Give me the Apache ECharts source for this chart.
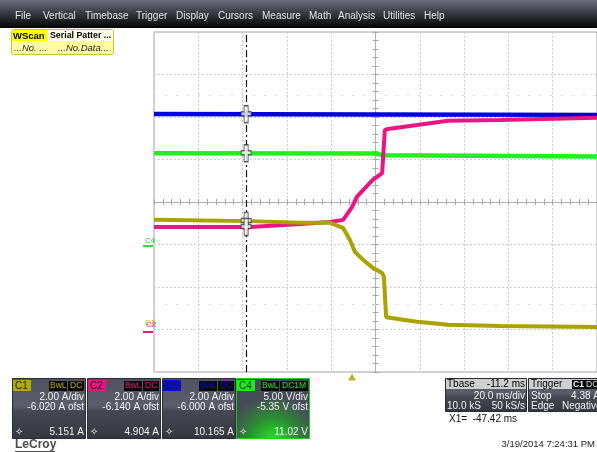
<!DOCTYPE html>
<html>
<head>
<meta charset="utf-8">
<script src="https://cdn.jsdelivr.net/npm/echarts@6/dist/echarts.min.js"></script>
<style>
  html, body { margin:0; padding:0; background:#fff; }
  #scope { width:597px; height:452px; }
</style>
</head>
<body>
<div id="scope"></div>
<script>
// traces, x in divisions from centre (-5..5), y in divisions from centre (-4..4)
var c1Pts = [[-5,-0.42],[-2.83,-0.45],[-1.70,-0.49],[-1.03,-0.49],[-0.73,-0.61],[-0.58,-0.89],[-0.46,-1.18],
             [-0.28,-1.36],[-0.06,-1.55],[0.15,-1.67],[0.19,-1.76],[0.24,-2.71],[0.28,-2.73],[0.94,-2.82],
             [1.64,-2.89],[2.81,-2.92],[5,-2.94]];
var c2Pts = [[-5,-0.59],[-2.83,-0.59],[-1.70,-0.52],[-1.03,-0.47],[-0.73,-0.42],[-0.53,-0.12],[-0.42,0.12],
             [-0.28,0.28],[-0.06,0.52],[0.15,0.68],[0.18,0.71],[0.21,1.69],[0.28,1.72],[0.94,1.81],
             [1.64,1.91],[2.81,1.93],[5,1.98]];
var c3Pts = [[-5,2.07],[0,2.06],[5,2.05]];
var c4Pts = [[-5,1.15],[0,1.14],[0.2,1.10],[5,1.07]];

var cursorX = -2.92;   // X1 cursor
var trigX = -0.53;     // trigger point

// channel descriptor boxes
var chanNames   = ['C1','C2','C3','C4'];
var chanCoupl   = ['DC','DC','DC','DC1M'];
var chanScale   = ['2.00 A/div','2.00 A/div','2.00 A/div','5.00 V/div'];
var chanOffset  = ['-6.020 A ofst','-6.140 A ofst','-6.000 A ofst','-5.35 V ofst'];
var chanReadout = ['5.151 A','4.904 A','10.165 A','11.02 V'];
var chanColors  = ['#b3ac00','#e6157f','#0a0ad8','#1ee81e'];
var traceColors = ['#aaa200','#ea1585','#0000dd','#22ee22'];

var menuItems = ['File','Vertical','Timebase','Trigger','Display','Cursors','Measure','Math','Analysis','Utilities','Help'];
var menuX     = [15,43,85,136,176,218,262,309,338,383,424];

function interp(pts, x) {
    for (var i = 0; i < pts.length - 1; i++) {
        if (x >= pts[i][0] && x <= pts[i+1][0]) {
            var t = (x - pts[i][0]) / (pts[i+1][0] - pts[i][0]);
            return pts[i][1] + t * (pts[i+1][1] - pts[i][1]);
        }
    }
    return pts[pts.length-1][1];
}

function txt(x, y, s, color, font, align) {
    return {type:'text', x:x, y:y, z:20,
        style:{text:s, fill:color, font:font, textAlign:align||'left', align:align||'left',
               textVerticalAlign:'middle', verticalAlign:'middle'}};
}
var FONT = '10px "Liberation Sans", Arial, sans-serif';
var panelFill = new echarts.graphic.LinearGradient(0,0,0,1,[
    {offset:0, color:'#50535f'},{offset:0.45, color:'#5b5e6a'},{offset:0.55, color:'#454852'},{offset:1, color:'#34373f'}]);

var g = [];
// menu bar
g.push({type:'rect', shape:{x:0,y:0,width:597,height:28}, z:10,
    style:{fill:new echarts.graphic.LinearGradient(0,0,0,1,[{offset:0,color:'#6b6e7e'},{offset:0.45,color:'#3a3b44'},{offset:1,color:'#050505'}])}});
menuItems.forEach(function (m, i) {
    g.push(txt(menuX[i], 16, m, '#e6e6e6', '10px "Liberation Sans", Arial, sans-serif'));
});

// WScan box
g.push({type:'rect', shape:{x:11.5,y:29.5,width:102,height:25, r:2}, z:10, style:{fill:'#ffff9e', stroke:'#c8bf3a', lineWidth:1}});
g.push({type:'rect', shape:{x:12,y:30,width:35,height:11}, z:11, style:{fill:'#ffff00'}});
g.push({type:'rect', shape:{x:48,y:30,width:65,height:11}, z:11, style:{fill:'#fbfbe6'}});
g.push(txt(13, 36, 'WScan', '#000', 'bold 9.5px "Liberation Sans", Arial, sans-serif'));
g.push(txt(50, 36, 'Serial Patter ...', '#000', 'bold 8.8px "Liberation Sans", Arial, sans-serif'));
g.push(txt(14, 48, '...No. ...', '#222', 'italic 9.5px "Liberation Sans", Arial, sans-serif'));
g.push(txt(58, 48, '...No.Data...', '#222', 'italic 9.5px "Liberation Sans", Arial, sans-serif'));

// channel descriptor boxes
var boxX = [12, 87, 162, 236];
chanNames.forEach(function (n, i) {
    var x0 = boxX[i], w = 73;
    var fill = panelFill;
    if (i === 3) {
        fill = new echarts.graphic.RadialGradient(0.5, 1.05, 0.75, [{offset:0,color:'#1ef01e'},{offset:0.55,color:'#2c8a34'},{offset:1,color:'#474b57'}]);
    }
    g.push({type:'rect', shape:{x:x0+0.5,y:378.5,width:w,height:60}, z:10,
        style:{fill:fill, stroke:i===3 ? '#28c828' : '#2a2c33', lineWidth:1}});
    g.push({type:'rect', shape:{x:x0+1,y:380,width:18,height:11}, z:11, style:{fill:chanColors[i]}});
    g.push(txt(x0+3, 386, n, i===3 ? '#064006' : '#1a1a1a', '10px "Liberation Sans", Arial, sans-serif'));
    var cw = chanCoupl[i].length * 6 + 4;
    g.push({type:'rect', shape:{x:x0+w-cw-1,y:381,width:cw,height:10}, z:11, style:{fill:'#0a0a0a'}});
    g.push({type:'rect', shape:{x:x0+w-cw-20,y:381,width:18,height:10}, z:11, style:{fill:'#0a0a0a'}});
    g.push(txt(x0+w-cw-19, 386, 'BwL', chanColors[i], '8.5px "Liberation Sans", Arial, sans-serif'));
    g.push(txt(x0+w-cw+1, 386, chanCoupl[i], chanColors[i], '8.5px "Liberation Sans", Arial, sans-serif'));
    g.push(txt(x0+w-1, 397, chanScale[i], '#f2f2f2', FONT, 'right'));
    g.push(txt(x0+w-1, 407, chanOffset[i], '#f2f2f2', FONT, 'right'));
    g.push(txt(x0+w-1, 432, chanReadout[i], '#f2f2f2', FONT, 'right'));
    g.push(txt(x0+3, 432, '\u2727', '#f2f2f2', '10px "DejaVu Sans", sans-serif'));
});

// timebase and trigger boxes
g.push({type:'rect', shape:{x:445.5,y:378.5,width:81,height:33}, z:10, style:{fill:panelFill, stroke:'#2a2c33'}});
g.push({type:'rect', shape:{x:446,y:379,width:80,height:10}, z:11, style:{fill:'#cfcfcf'}});
g.push(txt(447, 384, 'Tbase', '#000', FONT));
g.push(txt(525, 384, '-11.2 ms', '#000', FONT, 'right'));
g.push(txt(525, 396, '20.0 ms/div', '#f2f2f2', FONT, 'right'));
g.push(txt(447, 406.5, '10.0 kS', '#f2f2f2', FONT));
g.push(txt(525, 406.5, '50 kS/s', '#f2f2f2', FONT, 'right'));
g.push({type:'rect', shape:{x:528.5,y:378.5,width:72,height:33}, z:10, style:{fill:panelFill, stroke:'#2a2c33'}});
g.push({type:'rect', shape:{x:529,y:379,width:70,height:10}, z:11, style:{fill:'#cfcfcf'}});
g.push(txt(531, 384, 'Trigger', '#000', FONT));
g.push({type:'rect', shape:{x:572,y:380,width:26,height:9}, z:11, style:{fill:'#0a0a0a'}});
g.push(txt(573, 384.5, 'C1', '#f0f0f0', 'bold 8.5px "Liberation Sans", Arial, sans-serif'));
g.push(txt(586, 384.5, 'DC', '#d8d8d8', '8.5px "Liberation Sans", Arial, sans-serif'));
g.push(txt(531, 396, 'Stop', '#f2f2f2', FONT));
g.push(txt(600, 396, '4.38 A', '#f2f2f2', FONT, 'right'));
g.push(txt(531, 406.5, 'Edge', '#f2f2f2', FONT));
g.push(txt(562, 406.5, 'Negative', '#f2f2f2', FONT));
g.push(txt(449, 419, 'X1=  -47.42 ms', '#111', FONT));
g.push(txt(595, 444, '3/19/2014 7:24:31 PM', '#222', '9.5px "Liberation Sans", Arial, sans-serif', 'right'));
g.push(txt(15, 445, 'LeCroy', '#4c4c4c', 'bold 12px "Liberation Sans", Arial, sans-serif'));
g.push({type:'rect', shape:{x:15,y:451,width:40,height:1}, z:11, style:{fill:'#4c4c4c'}});

// channel ground markers at left edge
g.push(txt(145, 241, 'C4', '#2fcf2f', '8px "Liberation Sans", Arial, sans-serif'));
g.push({type:'rect', shape:{x:143,y:245,width:10,height:2}, z:11, style:{fill:'#2fdf2f'}});
g.push(txt(145, 323, 'C1', '#b3ac00', '8px "Liberation Sans", Arial, sans-serif'));
g.push(txt(146, 325, 'C2', '#e6157f', '8px "Liberation Sans", Arial, sans-serif'));
g.push({type:'rect', shape:{x:143,y:331,width:10,height:2}, z:11, style:{fill:'#e6157f'}});

var crossPath = 'path://M3,0 H7 V6 H10 V10 H7 V17 H3 V10 H0 V6 H3 Z';
var crossPts = [c3Pts, c4Pts, c1Pts, c2Pts].map(function (p) { return [cursorX, interp(p, cursorX)]; });

function axisX(pos, main) {
    return {type:'value', min:-5, max:5, interval:1, position:pos,
        axisLine:{show:true, onZero:true, onZeroAxisIndex:0, lineStyle:{color:'#b0b0b0', width:1}},
        axisTick:{show:true, length:3, lineStyle:{color:'#a8a8a8'}},
        minorTick:{show:true, splitNumber:5, length:3, lineStyle:{color:'#a8a8a8'}},
        axisLabel:{show:false},
        splitLine:{show:main, lineStyle:{color:'#cdcdcd', type:[2,2]}}};
}
function axisY(pos, main) {
    return {type:'value', min:-4, max:4, interval:1, position:pos,
        axisLine:{show:true, onZero:true, onZeroAxisIndex:0, lineStyle:{color:'#b0b0b0', width:1}},
        axisTick:{show:true, length:3, lineStyle:{color:'#a8a8a8'}},
        minorTick:{show:true, splitNumber:5, length:3, lineStyle:{color:'#a8a8a8'}},
        axisLabel:{show:false},
        splitLine:{show:main, lineStyle:{color:'#cdcdcd', type:[2,2]}}};
}

function trace(pts, color, w) {
    return {type:'line', data:pts, showSymbol:false, symbol:'none', animation:false, silent:true,
        lineStyle:{color:color, width:w}, z:5};
}

var dom = document.getElementById('scope');
var chart = echarts.init(dom, null, {renderer:'canvas'});
var option = {
    animation:false,
    backgroundColor:'#ffffff',
    grid:{left:154, top:32, width:443, height:340, show:true, borderColor:'#a4a4a4', borderWidth:1, backgroundColor:'transparent'},
    xAxis:[axisX('bottom', true), axisX('top', false)],
    yAxis:[axisY('left', true), axisY('right', false)],
    graphic:g,
    series:[
        {type:'line', data:[], markLine:{silent:true, symbol:'none', label:{show:false},
            lineStyle:{color:'#d8d8d8', type:[2,9], width:1},
            data:[{yAxis:2.52},{yAxis:-2.4}]}},
        trace(c3Pts, traceColors[2], 4.5),
        trace(c4Pts, traceColors[3], 4.5),
        trace(c2Pts, traceColors[1], 4),
        trace(c1Pts, traceColors[0], 4),
        {type:'line', data:[], markLine:{silent:true, symbol:'none', label:{show:false},
            lineStyle:{color:'#111', type:[7,3,2,3], width:1.2},
            data:[{xAxis:cursorX}]}, z:6},
        {type:'scatter', data:crossPts, symbol:crossPath, symbolSize:[10,17], silent:true, z:8,
            itemStyle:{color:'#ffffff', borderColor:'#3a3a3a', borderWidth:1.2}},
        {type:'scatter', data:[[trigX,-4]], symbol:'triangle', symbolSize:[8,7], symbolOffset:[0,5],
            clip:false, silent:true, itemStyle:{color:'#a8a000'}}
    ]
};
chart.setOption(option, true);
</script>
</body>
</html>
